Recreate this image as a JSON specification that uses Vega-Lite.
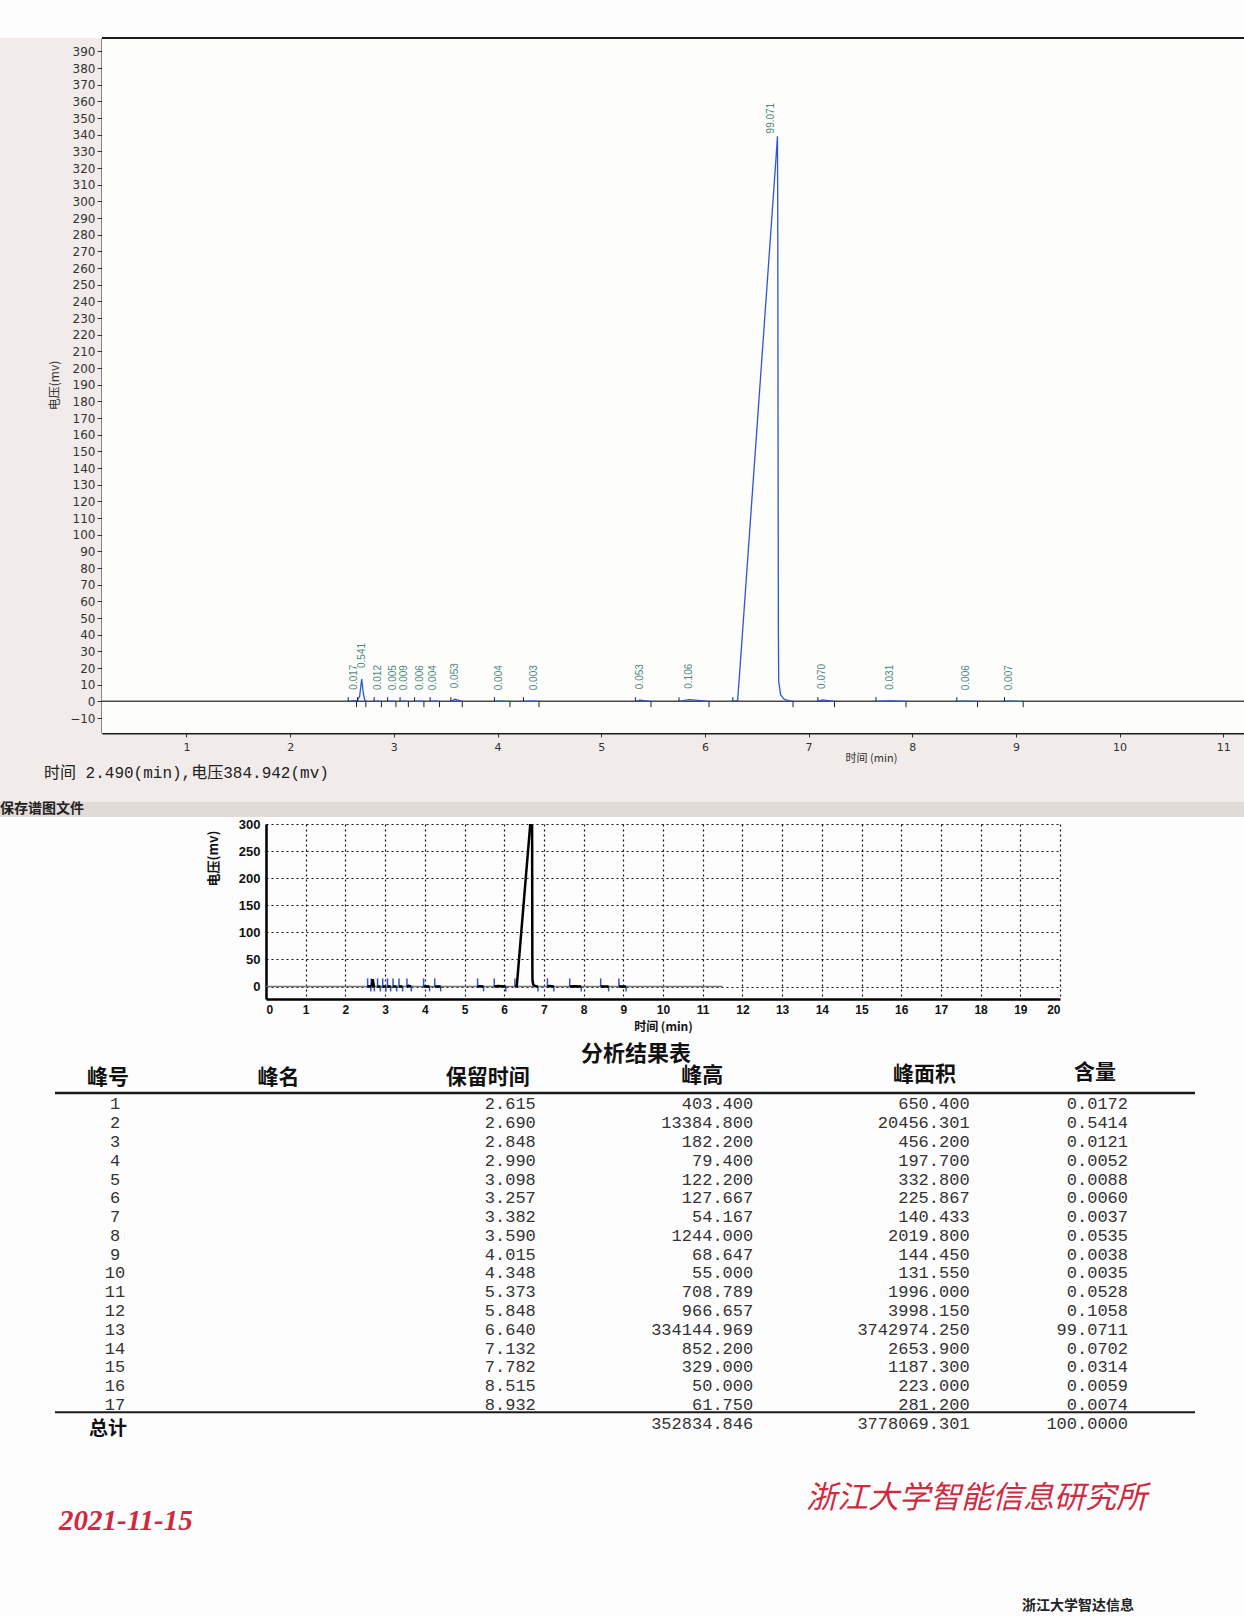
{
  "$schema": "https://vega.github.io/schema/vega-lite/v6.json",
  "background": "#fdfdfd",
  "padding": {"left": 0, "top": 37, "right": 0, "bottom": 0},
  "bounds": "flush",
  "spacing": 0,
  "config": {"view": {"stroke": null}, "font": "Liberation Sans", "axis": {"labelOverlap": false}},
  "datasets": {
    "peaks": [
      {"id": "1", "rt": 2.615, "st": 2.56, "en": 2.64, "h": 0.403, "lab": "0.017", "rtS": "2.615", "hS": "403.400", "aS": "650.400", "pS": "0.0172"},
      {"id": "2", "rt": 2.69, "st": 2.65, "en": 2.73, "h": 13.385, "lab": "0.541", "rtS": "2.690", "hS": "13384.800", "aS": "20456.301", "pS": "0.5414"},
      {"id": "3", "rt": 2.848, "st": 2.81, "en": 2.88, "h": 0.182, "lab": "0.012", "rtS": "2.848", "hS": "182.200", "aS": "456.200", "pS": "0.0121"},
      {"id": "4", "rt": 2.99, "st": 2.94, "en": 3.02, "h": 0.079, "lab": "0.005", "rtS": "2.990", "hS": "79.400", "aS": "197.700", "pS": "0.0052"},
      {"id": "5", "rt": 3.098, "st": 3.06, "en": 3.14, "h": 0.122, "lab": "0.009", "rtS": "3.098", "hS": "122.200", "aS": "332.800", "pS": "0.0088"},
      {"id": "6", "rt": 3.257, "st": 3.2, "en": 3.29, "h": 0.128, "lab": "0.006", "rtS": "3.257", "hS": "127.667", "aS": "225.867", "pS": "0.0060"},
      {"id": "7", "rt": 3.382, "st": 3.35, "en": 3.44, "h": 0.054, "lab": "0.004", "rtS": "3.382", "hS": "54.167", "aS": "140.433", "pS": "0.0037"},
      {"id": "8", "rt": 3.59, "st": 3.55, "en": 3.66, "h": 1.244, "lab": "0.053", "rtS": "3.590", "hS": "1244.000", "aS": "2019.800", "pS": "0.0535"},
      {"id": "9", "rt": 4.015, "st": 3.97, "en": 4.12, "h": 0.069, "lab": "0.004", "rtS": "4.015", "hS": "68.647", "aS": "144.450", "pS": "0.0038"},
      {"id": "10", "rt": 4.348, "st": 4.25, "en": 4.4, "h": 0.055, "lab": "0.003", "rtS": "4.348", "hS": "55.000", "aS": "131.550", "pS": "0.0035"},
      {"id": "11", "rt": 5.373, "st": 5.33, "en": 5.48, "h": 0.709, "lab": "0.053", "rtS": "5.373", "hS": "708.789", "aS": "1996.000", "pS": "0.0528"},
      {"id": "12", "rt": 5.848, "st": 5.75, "en": 6.04, "h": 0.967, "lab": "0.106", "rtS": "5.848", "hS": "966.657", "aS": "3998.150", "pS": "0.1058"},
      {"id": "13", "rt": 6.64, "st": 6.27, "en": 6.85, "h": 334.145, "lab": "99.071", "rtS": "6.640", "hS": "334144.969", "aS": "3742974.250", "pS": "99.0711"},
      {"id": "14", "rt": 7.132, "st": 7.09, "en": 7.25, "h": 0.852, "lab": "0.070", "rtS": "7.132", "hS": "852.200", "aS": "2653.900", "pS": "0.0702"},
      {"id": "15", "rt": 7.782, "st": 7.65, "en": 7.94, "h": 0.329, "lab": "0.031", "rtS": "7.782", "hS": "329.000", "aS": "1187.300", "pS": "0.0314"},
      {"id": "16", "rt": 8.515, "st": 8.43, "en": 8.63, "h": 0.05, "lab": "0.006", "rtS": "8.515", "hS": "50.000", "aS": "223.000", "pS": "0.0059"},
      {"id": "17", "rt": 8.932, "st": 8.89, "en": 9.07, "h": 0.062, "lab": "0.007", "rtS": "8.932", "hS": "61.750", "aS": "281.200", "pS": "0.0074"}
    ],
    "total": [
      {"id": "总计", "hS": "352834.846", "aS": "3778069.301", "pS": "100.0000"}
    ],
    "trace": [
      {"p": 1, "t": 2.56, "v": 0}, {"p": 1, "t": 2.615, "v": 0.4}, {"p": 1, "t": 2.645, "v": 0.2},
      {"p": 2, "t": 2.645, "v": 0.2}, {"p": 2, "t": 2.67, "v": 3}, {"p": 2, "t": 2.69, "v": 13.4}, {"p": 2, "t": 2.705, "v": 5}, {"p": 2, "t": 2.72, "v": 0.5}, {"p": 2, "t": 2.74, "v": 0},
      {"p": 3, "t": 2.81, "v": 0}, {"p": 3, "t": 2.848, "v": 0.18}, {"p": 3, "t": 2.88, "v": 0},
      {"p": 4, "t": 2.94, "v": 0}, {"p": 4, "t": 2.99, "v": 0.08}, {"p": 4, "t": 3.02, "v": 0},
      {"p": 5, "t": 3.06, "v": 0}, {"p": 5, "t": 3.098, "v": 0.12}, {"p": 5, "t": 3.14, "v": 0},
      {"p": 6, "t": 3.2, "v": 0}, {"p": 6, "t": 3.257, "v": 0.13}, {"p": 6, "t": 3.29, "v": 0},
      {"p": 7, "t": 3.35, "v": 0}, {"p": 7, "t": 3.382, "v": 0.05}, {"p": 7, "t": 3.44, "v": 0},
      {"p": 8, "t": 3.55, "v": 0}, {"p": 8, "t": 3.59, "v": 1.24}, {"p": 8, "t": 3.66, "v": 0},
      {"p": 9, "t": 3.97, "v": 0}, {"p": 9, "t": 4.015, "v": 0.07}, {"p": 9, "t": 4.12, "v": 0},
      {"p": 10, "t": 4.25, "v": 0}, {"p": 10, "t": 4.348, "v": 0.06}, {"p": 10, "t": 4.4, "v": 0},
      {"p": 11, "t": 5.33, "v": 0}, {"p": 11, "t": 5.373, "v": 0.71}, {"p": 11, "t": 5.48, "v": 0},
      {"p": 12, "t": 5.75, "v": 0}, {"p": 12, "t": 5.848, "v": 0.97}, {"p": 12, "t": 6.04, "v": 0},
      {"p": 13, "t": 6.27, "v": 0}, {"p": 13, "t": 6.316, "v": 0.5}, {"p": 13, "t": 6.35, "v": 30}, {"p": 13, "t": 6.4, "v": 74}, {"p": 13, "t": 6.45, "v": 118}, {"p": 13, "t": 6.5, "v": 162}, {"p": 13, "t": 6.55, "v": 206}, {"p": 13, "t": 6.6, "v": 250}, {"p": 13, "t": 6.65, "v": 294}, {"p": 13, "t": 6.685, "v": 325}, {"p": 13, "t": 6.7, "v": 339}, {"p": 13, "t": 6.703, "v": 290}, {"p": 13, "t": 6.705, "v": 200}, {"p": 13, "t": 6.707, "v": 110}, {"p": 13, "t": 6.709, "v": 40}, {"p": 13, "t": 6.712, "v": 12}, {"p": 13, "t": 6.73, "v": 4}, {"p": 13, "t": 6.76, "v": 1.5}, {"p": 13, "t": 6.8, "v": 0.5}, {"p": 13, "t": 6.85, "v": 0},
      {"p": 14, "t": 7.09, "v": 0}, {"p": 14, "t": 7.132, "v": 0.85}, {"p": 14, "t": 7.25, "v": 0},
      {"p": 15, "t": 7.65, "v": 0}, {"p": 15, "t": 7.782, "v": 0.33}, {"p": 15, "t": 7.94, "v": 0},
      {"p": 16, "t": 8.43, "v": 0}, {"p": 16, "t": 8.515, "v": 0.05}, {"p": 16, "t": 8.63, "v": 0},
      {"p": 17, "t": 8.89, "v": 0}, {"p": 17, "t": 8.932, "v": 0.06}, {"p": 17, "t": 9.07, "v": 0}
    ]
  },
  "vconcat": [
    {
      "width": 1244,
      "height": 764,
      "view": {"fill": "#f1ece9", "stroke": null},
      "title": {"text": "时间 2.490(min),电压384.942(mv)", "orient": "bottom", "anchor": "start", "frame": "group", "dx": 44, "dy": -37, "offset": 0, "font": "Liberation Mono, Noto Sans CJK SC", "fontSize": 16, "fontWeight": "normal", "color": "#222222"},
      "layer": [
        {
          "data": {"values": [{}]},
          "mark": {"type": "rect", "color": "#fdfdfc"},
          "encoding": {
            "x": {
              "datum": 0.185, "type": "quantitative",
              "scale": {"domain": [0.185, 11.2], "range": [102, 1244], "nice": false, "zero": false},
              "axis": {
                "values": [1, 2, 3, 4, 5, 6, 7, 8, 9, 10, 11],
                "tickCount": 100,
                "format": "d",
                "offset": -69,
                "labelFont": "DejaVu Sans", "labelFontSize": 11, "labelColor": "#333333",
                "tickColor": "#333333", "tickSize": 4, "domain": true, "domainColor": "#1c1c1c", "domainWidth": 2, "grid": false, "labelPadding": 4,
                "title": "时间 (min)", "titleFont": "Noto Sans CJK SC", "titleFontSize": 11, "titleFontWeight": "normal", "titleColor": "#333333",
                "titleX": 871, "titleY": 25, "titleBaseline": "middle"
              }
            },
            "x2": {"datum": 11.2},
            "y": {
              "datum": -19, "type": "quantitative",
              "scale": {"domain": [-19, 398], "range": [695, 0], "nice": false, "zero": false},
              "axis": {
                "values": [-10, 0, 10, 20, 30, 40, 50, 60, 70, 80, 90, 100, 110, 120, 130, 140, 150, 160, 170, 180, 190, 200, 210, 220, 230, 240, 250, 260, 270, 280, 290, 300, 310, 320, 330, 340, 350, 360, 370, 380, 390],
                "tickCount": 100,
                "format": "d",
                "offset": -102,
                "labelFont": "DejaVu Sans", "labelFontSize": 12, "labelColor": "#333333", "labelOverlap": false,
                "tickColor": "#333333", "tickSize": 5, "domain": true, "domainColor": "#1c1c1c", "domainWidth": 2, "grid": false, "labelPadding": 2,
                "title": "电压(mv)", "titleFont": "Noto Sans CJK SC", "titleFontSize": 12, "titleFontWeight": "normal", "titleColor": "#333333",
                "titleX": -48, "titleY": 347, "titleBaseline": "middle"
              }
            },
            "y2": {"datum": 398}
          }
        },
        {
          "data": {"values": [{}]},
          "mark": {"type": "rule", "color": "#4a4a4a", "strokeWidth": 1.5},
          "encoding": {
            "x": {"datum": 0.185, "type": "quantitative"},
            "x2": {"datum": 11.2},
            "y": {"datum": 0, "type": "quantitative"}
          }
        },
        {
          "data": {"values": [{}]},
          "mark": {"type": "rule", "color": "#1c1c1c", "strokeWidth": 2},
          "encoding": {
            "x": {"datum": 0.185, "type": "quantitative"},
            "x2": {"datum": 11.2},
            "y": {"datum": 398, "type": "quantitative"}
          }
        },
        {
          "data": {"name": "trace"},
          "mark": {"type": "line", "color": "#2f55d4", "strokeWidth": 1.3},
          "encoding": {
            "x": {"field": "t", "type": "quantitative"},
            "y": {"field": "v", "type": "quantitative"},
            "detail": {"field": "p", "type": "nominal"}
          }
        },
        {
          "data": {"name": "peaks"},
          "mark": {"type": "rule", "color": "#222222", "strokeWidth": 1},
          "encoding": {
            "x": {"field": "st", "type": "quantitative"},
            "y": {"datum": 0, "type": "quantitative"},
            "y2": {"datum": 2.5}
          }
        },
        {
          "data": {"name": "peaks"},
          "mark": {"type": "rule", "color": "#222222", "strokeWidth": 1},
          "encoding": {
            "x": {"field": "en", "type": "quantitative"},
            "y": {"datum": 0, "type": "quantitative"},
            "y2": {"datum": -3.5}
          }
        },
        {
          "data": {"name": "peaks"},
          "mark": {"type": "text", "angle": 270, "align": "left", "baseline": "middle", "dx": 11, "fontSize": 10, "color": "#4d8a7b", "font": "Liberation Sans"},
          "encoding": {
            "x": {"field": "rt", "type": "quantitative"},
            "y": {"field": "h", "type": "quantitative"},
            "text": {"field": "lab"}
          }
        }
      ]
    },
    {
      "width": 1244, "height": 15, "data": {"values": []}, "mark": "point",
      "view": {"fill": "#e1dbd8", "stroke": null},
      "title": {"text": "保存谱图文件", "orient": "top", "anchor": "start", "frame": "group", "dx": 0, "dy": 14, "offset": 0, "font": "Noto Sans CJK SC", "fontSize": 14, "fontWeight": "bold", "color": "#222222"}
    },
    {"width": 1244, "height": 7, "data": {"values": []}, "mark": "point"},
    {
      "width": 1244,
      "height": 175,
      "layer": [
        {
          "data": {"values": [{}]},
          "mark": {"type": "rule", "color": "#777777", "strokeWidth": 1.5},
          "encoding": {
            "x": {
              "datum": 0, "type": "quantitative",
              "scale": {"domain": [0, 20], "range": [266, 1060], "nice": false, "zero": false},
              "axis": {
                "values": [0, 1, 2, 3, 4, 5, 6, 7, 8, 9, 10, 11, 12, 13, 14, 15, 16, 17, 18, 19, 20],
                "tickCount": 100,
                "format": "d",
                "grid": true, "gridDash": [2, 3], "gridColor": "#111111", "gridWidth": 1.2,
                "domainColor": "#000000", "domainWidth": 2.5, "ticks": false,
                "labelFont": "Liberation Sans", "labelFontSize": 12, "labelFontWeight": "bold", "labelColor": "#111111", "labelPadding": 5,
                "title": "时间 (min)", "titleFont": "Noto Sans CJK SC", "titleFontSize": 12, "titleFontWeight": "bold", "titleColor": "#111111",
                "titleY": 27, "titleBaseline": "middle"
              }
            },
            "x2": {"datum": 11.5},
            "y": {
              "datum": 0, "type": "quantitative",
              "scale": {"domain": [-23, 300], "nice": false, "zero": false},
              "axis": {
                "values": [0, 50, 100, 150, 200, 250, 300],
                "tickCount": 100,
                "format": "d",
                "offset": -266,
                "grid": true, "gridDash": [2, 3], "gridColor": "#111111", "gridWidth": 1.2,
                "domainColor": "#000000", "domainWidth": 2.5, "ticks": false,
                "labelFont": "Liberation Sans", "labelFontSize": 13, "labelFontWeight": "bold", "labelColor": "#111111", "labelPadding": 6,
                "title": "电压(mv)", "titleFont": "Noto Sans CJK SC", "titleFontSize": 13, "titleFontWeight": "bold", "titleColor": "#111111",
                "titleX": -53, "titleY": 34, "titleBaseline": "middle"
              }
            }
          }
        },
        {
          "data": {"name": "peaks"},
          "mark": {"type": "rule", "color": "#2d55c8", "strokeWidth": 1.5, "clip": true},
          "encoding": {
            "x": {"field": "st", "type": "quantitative"},
            "y": {"datum": 0, "type": "quantitative"},
            "y2": {"datum": 15}
          }
        },
        {
          "data": {"name": "peaks"},
          "mark": {"type": "rule", "color": "#2d55c8", "strokeWidth": 1.5, "clip": true},
          "encoding": {
            "x": {"field": "en", "type": "quantitative"},
            "y": {"datum": 0, "type": "quantitative"},
            "y2": {"datum": -9}
          }
        },
        {
          "data": {"name": "trace"},
          "mark": {"type": "line", "color": "#000000", "strokeWidth": 2.5, "clip": true},
          "encoding": {
            "x": {"field": "t", "type": "quantitative"},
            "y": {"field": "v", "type": "quantitative"},
            "detail": {"field": "p", "type": "nominal"}
          }
        }
      ]
    },
    {"width": 1244, "height": 94, "data": {"values": []}, "mark": "point"},
    {
      "width": 1244,
      "height": 338,
      "title": {"text": "分析结果表", "fontSize": 22, "font": "Noto Sans CJK SC", "fontWeight": "bold", "color": "#111111", "anchor": "middle", "frame": "group", "dx": 14, "offset": -4},
      "resolve": {"scale": {"x": "independent"}},
      "layer": [
        {
          "layer": [
            {
              "data": {"name": "peaks"},
              "mark": {"type": "text", "font": "Liberation Mono", "fontSize": 17, "color": "#333333", "align": "center", "dx": 7, "dy": 2},
              "encoding": {
                "x": {
                  "datum": "峰号", "type": "nominal",
                  "scale": {"type": "point", "domain": ["峰号", "峰名", "保留时间", "峰高", "峰面积", "含量"], "range": [108, 1095], "padding": 0},
                  "axis": null
                },
                "y": {
                  "field": "id", "type": "ordinal",
                  "scale": {"type": "band", "domain": ["1", "2", "3", "4", "5", "6", "7", "8", "9", "10", "11", "12", "13", "14", "15", "16", "17", "总计"], "paddingInner": 0, "paddingOuter": 0},
                  "axis": null
                },
                "text": {"field": "id"}
              }
            },
            {
              "data": {"name": "peaks"},
              "mark": {"type": "text", "font": "Liberation Mono", "fontSize": 17, "color": "#333333", "align": "right", "dx": 33, "dy": 2},
              "encoding": {"x": {"datum": "保留时间", "type": "nominal"}, "y": {"field": "id", "type": "ordinal"}, "text": {"field": "rtS"}}
            },
            {
              "data": {"name": "peaks"},
              "mark": {"type": "text", "font": "Liberation Mono", "fontSize": 17, "color": "#333333", "align": "right", "dx": 53, "dy": 2},
              "encoding": {"x": {"datum": "峰高", "type": "nominal"}, "y": {"field": "id", "type": "ordinal"}, "text": {"field": "hS"}}
            },
            {
              "data": {"name": "peaks"},
              "mark": {"type": "text", "font": "Liberation Mono", "fontSize": 17, "color": "#333333", "align": "right", "dx": 72, "dy": 2},
              "encoding": {"x": {"datum": "峰面积", "type": "nominal"}, "y": {"field": "id", "type": "ordinal"}, "text": {"field": "aS"}}
            },
            {
              "data": {"name": "peaks"},
              "mark": {"type": "text", "font": "Liberation Mono", "fontSize": 17, "color": "#333333", "align": "right", "dx": 33, "dy": 2},
              "encoding": {"x": {"datum": "含量", "type": "nominal"}, "y": {"field": "id", "type": "ordinal"}, "text": {"field": "pS"}}
            },
            {
              "data": {"name": "total"},
              "mark": {"type": "text", "font": "Noto Sans CJK SC", "fontSize": 19, "fontWeight": "bold", "color": "#111111", "align": "center", "dx": 0, "dy": 7},
              "encoding": {"x": {"datum": "峰号", "type": "nominal"}, "y": {"field": "id", "type": "ordinal"}, "text": {"field": "id"}}
            },
            {
              "data": {"name": "total"},
              "mark": {"type": "text", "font": "Liberation Mono", "fontSize": 17, "color": "#333333", "align": "right", "dx": 53, "dy": 2},
              "encoding": {"x": {"datum": "峰高", "type": "nominal"}, "y": {"field": "id", "type": "ordinal"}, "text": {"field": "hS"}}
            },
            {
              "data": {"name": "total"},
              "mark": {"type": "text", "font": "Liberation Mono", "fontSize": 17, "color": "#333333", "align": "right", "dx": 72, "dy": 2},
              "encoding": {"x": {"datum": "峰面积", "type": "nominal"}, "y": {"field": "id", "type": "ordinal"}, "text": {"field": "aS"}}
            },
            {
              "data": {"name": "total"},
              "mark": {"type": "text", "font": "Liberation Mono", "fontSize": 17, "color": "#333333", "align": "right", "dx": 33, "dy": 2},
              "encoding": {"x": {"datum": "含量", "type": "nominal"}, "y": {"field": "id", "type": "ordinal"}, "text": {"field": "pS"}}
            },
            {
              "data": {"values": [{}]},
              "mark": {"type": "text", "font": "Noto Sans CJK SC", "fontSize": 21, "fontWeight": "bold", "color": "#111111", "align": "center", "baseline": "middle", "dx": 0, "dy": -15},
              "encoding": {"x": {"datum": "峰号", "type": "nominal"}, "y": {"datum": "1", "type": "ordinal", "bandPosition": 0}, "text": {"value": "峰号"}}
            },
            {
              "data": {"values": [{}]},
              "mark": {"type": "text", "font": "Noto Sans CJK SC", "fontSize": 21, "fontWeight": "bold", "color": "#111111", "align": "center", "baseline": "middle", "dx": -27, "dy": -15},
              "encoding": {"x": {"datum": "峰名", "type": "nominal"}, "y": {"datum": "1", "type": "ordinal", "bandPosition": 0}, "text": {"value": "峰名"}}
            },
            {
              "data": {"values": [{}]},
              "mark": {"type": "text", "font": "Noto Sans CJK SC", "fontSize": 21, "fontWeight": "bold", "color": "#111111", "align": "center", "baseline": "middle", "dx": -15, "dy": -15},
              "encoding": {"x": {"datum": "保留时间", "type": "nominal"}, "y": {"datum": "1", "type": "ordinal", "bandPosition": 0}, "text": {"value": "保留时间"}}
            },
            {
              "data": {"values": [{}]},
              "mark": {"type": "text", "font": "Noto Sans CJK SC", "fontSize": 21, "fontWeight": "bold", "color": "#111111", "align": "center", "baseline": "middle", "dx": 2, "dy": -17},
              "encoding": {"x": {"datum": "峰高", "type": "nominal"}, "y": {"datum": "1", "type": "ordinal", "bandPosition": 0}, "text": {"value": "峰高"}}
            },
            {
              "data": {"values": [{}]},
              "mark": {"type": "text", "font": "Noto Sans CJK SC", "fontSize": 21, "fontWeight": "bold", "color": "#111111", "align": "center", "baseline": "middle", "dx": 27, "dy": -18},
              "encoding": {"x": {"datum": "峰面积", "type": "nominal"}, "y": {"datum": "1", "type": "ordinal", "bandPosition": 0}, "text": {"value": "峰面积"}}
            },
            {
              "data": {"values": [{}]},
              "mark": {"type": "text", "font": "Noto Sans CJK SC", "fontSize": 21, "fontWeight": "bold", "color": "#111111", "align": "center", "baseline": "middle", "dx": 0, "dy": -20},
              "encoding": {"x": {"datum": "含量", "type": "nominal"}, "y": {"datum": "1", "type": "ordinal", "bandPosition": 0}, "text": {"value": "含量"}}
            }
          ]
        },
        {
          "layer": [
            {
              "data": {"values": [{}]},
              "mark": {"type": "rule", "color": "#1a1a1a", "strokeWidth": 2.5},
              "encoding": {
                "x": {"datum": 0, "type": "quantitative", "scale": {"domain": [0, 1], "range": [55, 1195], "nice": false, "zero": false}, "axis": null},
                "x2": {"datum": 1},
                "y": {"datum": "1", "type": "ordinal", "bandPosition": 0}
              }
            },
            {
              "data": {"values": [{}]},
              "mark": {"type": "rule", "color": "#1a1a1a", "strokeWidth": 2},
              "encoding": {
                "x": {"datum": 0, "type": "quantitative"},
                "x2": {"datum": 1},
                "y": {"datum": "总计", "type": "ordinal", "bandPosition": 0}
              }
            }
          ]
        }
      ]
    },
    {
      "width": 1244, "height": 80, "data": {"values": []}, "mark": "point",
      "title": {"text": "浙江大学智能信息研究所", "orient": "top", "anchor": "start", "frame": "group", "dx": 806, "dy": 84, "offset": 0, "font": "Noto Sans CJK SC", "fontSize": 31, "fontStyle": "italic", "fontWeight": "normal", "color": "#cf2a3f"}
    },
    {
      "width": 1244, "height": 40, "data": {"values": []}, "mark": "point",
      "title": {"text": "2021-11-15", "orient": "top", "anchor": "start", "frame": "group", "dx": 59, "dy": 25, "offset": 0, "font": "Liberation Serif", "fontSize": 29, "fontStyle": "italic", "fontWeight": "bold", "color": "#cf2a3f"}
    },
    {
      "width": 1244, "height": 66, "data": {"values": []}, "mark": "point",
      "title": {"text": "浙江大学智达信息", "orient": "top", "anchor": "start", "frame": "group", "dx": 1022, "dy": 62, "offset": 0, "font": "Noto Sans CJK SC", "fontSize": 14, "fontWeight": "bold", "color": "#222222"}
    }
  ]
}
